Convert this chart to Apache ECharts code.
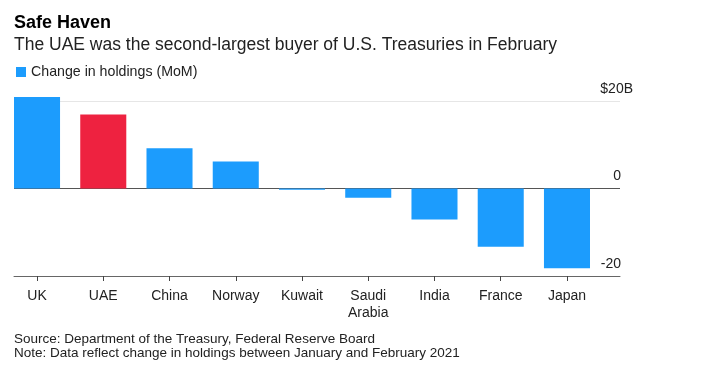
<!DOCTYPE html>
<html>
<head>
<meta charset="utf-8">
<script src="https://cdn.jsdelivr.net/npm/echarts@6/dist/echarts.min.js"></script>
<style>
  html, body { margin: 0; padding: 0; background: #fff; }
  #chart { width: 720px; height: 387px; }
</style>
</head>
<body>
<div id="chart"></div>
<script>
// ---- Data ----
const categories = ['UK', 'UAE', 'China', 'Norway', 'Kuwait', 'Saudi\nArabia', 'India', 'France', 'Japan'];
const changeInHoldings = [20.9, 16.9, 9.2, 6.2, -0.3, -2.1, -7.1, -13.3, -18.2];
const highlightCategory = 'UAE';
const yTicks = [-20, 0, 20];
const seriesName = 'Change in holdings (MoM)';

const FONT = 'Liberation Sans, Arial, sans-serif';
const BLUE = '#1c9cfd';
const RED = '#ee2240';

const chart = echarts.init(document.getElementById('chart'), null, { renderer: 'canvas' });

const yMin = yTicks[0], yMax = yTicks[yTicks.length - 1];
const yInterval = yTicks[1] - yTicks[0];

const option = {
  animation: false,
  backgroundColor: '#fff',
  title: [
    { text: 'Safe Haven', left: 14, top: 14, padding: 0,
      textStyle: { fontFamily: FONT, fontSize: 18, fontWeight: 'bold', color: '#000' } },
    { text: 'The UAE was the second-largest buyer of U.S. Treasuries in February', left: 14, top: 36, padding: 0,
      textStyle: { fontFamily: FONT, fontSize: 17.5, fontWeight: 'normal', color: '#222' } },
    { text: 'Source: Department of the Treasury, Federal Reserve Board\nNote: Data reflect change in holdings between January and February 2021',
      left: 14, top: 332, padding: 0,
      textStyle: { fontFamily: FONT, fontSize: 13.5, lineHeight: 14, fontWeight: 'normal', color: '#222' } }
  ],
  legend: {
    data: [seriesName],
    left: 16, top: 65, padding: 0,
    icon: 'rect', itemWidth: 10, itemHeight: 10, itemGap: 6,
    textStyle: { fontFamily: FONT, fontSize: 14.2, color: '#222' }
  },
  grid: [
    { left: 3.9, right: 119.9, top: 101, bottom: 111 },
    { left: 14, right: 100, top: 101, bottom: 111 }
  ],
  xAxis: [
    {
      type: 'category', gridIndex: 0, data: categories,
      axisLine: { show: false, onZero: false },
      axisTick: { show: true, alignWithLabel: true, length: 5, lineStyle: { color: '#444', width: 1 } },
      axisLabel: { fontFamily: FONT, fontSize: 14, lineHeight: 17, color: '#222', margin: 12, interval: 0 },
      z: 5
    },
    {
      type: 'category', gridIndex: 1, data: [''],
      axisLine: { show: true, onZero: false, lineStyle: { color: '#666', width: 1 } },
      axisTick: { show: false }, axisLabel: { show: false }
    }
  ],
  yAxis: [
    {
      type: 'value', gridIndex: 0, min: yMin, max: yMax, interval: yInterval,
      axisLine: { show: false }, axisTick: { show: false }, axisLabel: { show: false },
      splitLine: { show: false }
    },
    {
      type: 'value', gridIndex: 1, position: 'right', min: yMin, max: yMax, interval: yInterval,
      axisLine: { show: false }, axisTick: { show: false },
      splitLine: { show: true, lineStyle: { color: ['#666', '#555', '#e6e6e6'], width: 1 } },
      axisLabel: {
        inside: true, margin: -13, verticalAlign: 'bottom',
        formatter: v => v === yMax ? '{t|$' + v + 'B}' : '{n|' + v + '}',
        rich: {
          t: { fontFamily: FONT, fontSize: 14, color: '#222', padding: [0, 0, 5, 0] },
          n: { fontFamily: FONT, fontSize: 14, color: '#222', padding: [0, 12, 5, 0] }
        }
      }
    }
  ],
  series: [
    {
      name: seriesName, type: 'bar', xAxisIndex: 0, yAxisIndex: 0,
      barCategoryGap: '30.5%',
      clip: false,
      itemStyle: { color: BLUE },
      data: changeInHoldings.map((v, i) => ({
        value: v,
        itemStyle: categories[i] === highlightCategory ? { color: RED } : { color: BLUE }
      })),
      z: 2
    }
  ]
};

chart.setOption(option);
</script>
</body>
</html>
